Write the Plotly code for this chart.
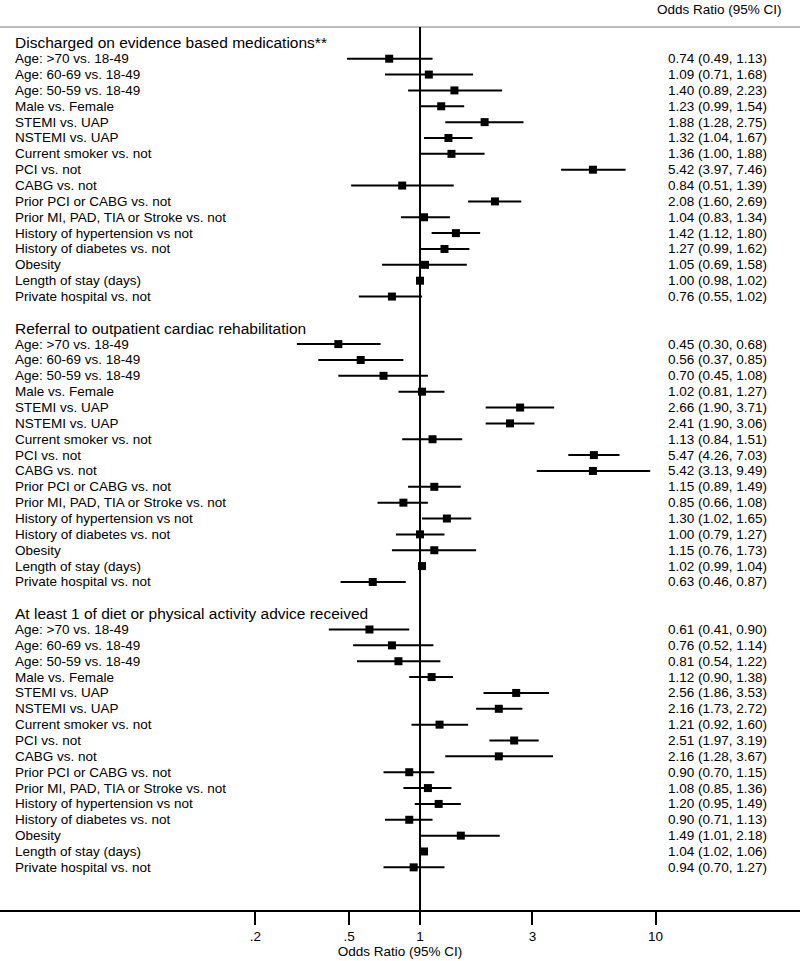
import plotly.graph_objects as go

sections = [
    "Discharged on evidence based medications**",
    "Referral to outpatient cardiac rehabilitation",
    "At least 1 of diet or physical activity advice received",
]
factors = [
    "Age: >70 vs. 18-49", "Age: 60-69 vs. 18-49", "Age: 50-59 vs. 18-49",
    "Male vs. Female", "STEMI vs. UAP", "NSTEMI vs. UAP",
    "Current smoker vs. not", "PCI vs. not", "CABG vs. not",
    "Prior PCI or CABG vs. not", "Prior MI, PAD, TIA or Stroke vs. not",
    "History of hypertension vs not", "History of diabetes vs. not",
    "Obesity", "Length of stay (days)", "Private hospital vs. not",
]

or_med = [0.74, 1.09, 1.40, 1.23, 1.88, 1.32, 1.36, 5.42, 0.84, 2.08, 1.04, 1.42, 1.27, 1.05, 1.00, 0.76]
lo_med = [0.49, 0.71, 0.89, 0.99, 1.28, 1.04, 1.00, 3.97, 0.51, 1.60, 0.83, 1.12, 0.99, 0.69, 0.98, 0.55]
hi_med = [1.13, 1.68, 2.23, 1.54, 2.75, 1.67, 1.88, 7.46, 1.39, 2.69, 1.34, 1.80, 1.62, 1.58, 1.02, 1.02]

or_rehab = [0.45, 0.56, 0.70, 1.02, 2.66, 2.41, 1.13, 5.47, 5.42, 1.15, 0.85, 1.30, 1.00, 1.15, 1.02, 0.63]
lo_rehab = [0.30, 0.37, 0.45, 0.81, 1.90, 1.90, 0.84, 4.26, 3.13, 0.89, 0.66, 1.02, 0.79, 0.76, 0.99, 0.46]
hi_rehab = [0.68, 0.85, 1.08, 1.27, 3.71, 3.06, 1.51, 7.03, 9.49, 1.49, 1.08, 1.65, 1.27, 1.73, 1.04, 0.87]

or_diet = [0.61, 0.76, 0.81, 1.12, 2.56, 2.16, 1.21, 2.51, 2.16, 0.90, 1.08, 1.20, 0.90, 1.49, 1.04, 0.94]
lo_diet = [0.41, 0.52, 0.54, 0.90, 1.86, 1.73, 0.92, 1.97, 1.28, 0.70, 0.85, 0.95, 0.71, 1.01, 1.02, 0.70]
hi_diet = [0.90, 1.14, 1.22, 1.38, 3.53, 2.72, 1.60, 3.19, 3.67, 1.15, 1.36, 1.49, 1.13, 2.18, 1.06, 1.27]

tick_vals = [0.2, 0.5, 1, 3, 10]
tick_text = [".2", ".5", "1", "3", "10"]

series = [(or_med, lo_med, hi_med), (or_rehab, lo_rehab, hi_rehab), (or_diet, lo_diet, hi_diet)]

FONT = "Liberation Sans"
fig = go.Figure()
annotations = []

row = 0
xs, ys, ep, em = [], [], [], []
for s, (ors, los, his) in zip(sections, series):
    annotations.append(dict(x=13 / 800, xref="paper", y=row, yref="y", text=s,
                            showarrow=False, xanchor="left", yanchor="middle",
                            font=dict(family=FONT, size=15.5, color="black")))
    row += 1
    for f, o, l, h in zip(factors, ors, los, his):
        xs.append(o); ys.append(row); ep.append(h - o); em.append(o - l)
        annotations.append(dict(x=13 / 800, xref="paper", y=row, yref="y", text=f,
                                showarrow=False, xanchor="left", yanchor="middle",
                                font=dict(family=FONT, size=13.5, color="black")))
        annotations.append(dict(x=666 / 800, xref="paper", y=row, yref="y",
                                text=f"{o:.2f} ({l:.2f}, {h:.2f})",
                                showarrow=False, xanchor="left", yanchor="middle",
                                font=dict(family=FONT, size=13.5, color="black")))
        row += 1
    row += 1  # blank row between sections

fig.add_trace(go.Scatter(
    x=xs, y=ys, mode="markers",
    marker=dict(symbol="square", size=8, color="black"),
    error_x=dict(type="data", symmetric=False, array=ep, arrayminus=em,
                 color="black", thickness=2, width=0),
    showlegend=False, hoverinfo="skip",
))

annotations.append(dict(x=784 / 800, xref="paper", y=1.0193, yref="paper",
                        text="Odds Ratio (95% CI)",
                        showarrow=False, xanchor="right", yanchor="middle",
                        font=dict(family=FONT, size=13.5, color="black")))

shapes = [
    dict(type="line", xref="paper", yref="paper", x0=0, x1=1, y0=1, y1=1,
         line=dict(color="#bdbdbd", width=2)),
    dict(type="line", xref="x", yref="paper", x0=1, x1=1, y0=0, y1=1,
         line=dict(color="black", width=2)),
]

fig.update_layout(
    width=800, height=961,
    margin=dict(l=0, r=0, t=27, b=51),
    paper_bgcolor="white", plot_bgcolor="white",
    annotations=annotations, shapes=shapes,
    font=dict(family=FONT, size=13, color="black"),
    xaxis=dict(type="log", range=[-1.783, 1.613], tickvals=tick_vals, ticktext=tick_text,
               ticks="outside", ticklen=13, tickwidth=2, tickcolor="black",
               showline=True, linewidth=2, linecolor="black", showgrid=False,
               zeroline=False, title=dict(text="Odds Ratio (95% CI)", standoff=0,
                                          font=dict(family=FONT, size=13.5)),
               tickfont=dict(family=FONT, size=13.5, color="black")),
    yaxis=dict(range=[54.69, -1], visible=False, showgrid=False, zeroline=False),
)

fig.write_html("out.html", config={"displayModeBar": False},
               post_script="document.body.style.margin='0';document.body.style.padding='0';")
